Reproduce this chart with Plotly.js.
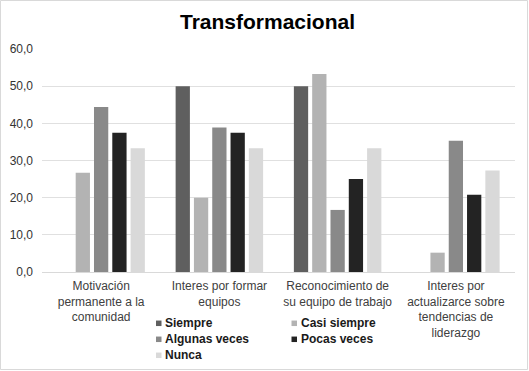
<!DOCTYPE html>
<html><head><meta charset="utf-8">
<script src="https://cdn.plot.ly/plotly-3.0.1.min.js"></script>
<style>html,body{margin:0;padding:0;background:#fff}#chart{width:529px;height:371px}</style>
</head><body><div id="chart"></div>
<script>
const categories = ["Motivación<br>permanente a la<br>comunidad", "Interes por formar<br>equipos", "Reconocimiento de<br>su equipo de trabajo", "Interes por<br>actualizarce sobre<br>tendencias de<br>liderazgo"];
const seriesNames = ["Siempre", "Casi siempre", "Algunas veces", "Pocas veces", "Nunca"];
const siempre = [0, 50, 50, 0];
const casiSiempre = [26.7, 20, 53.3, 5.2];
const algunasVeces = [44.4, 38.9, 16.7, 35.3];
const pocasVeces = [37.5, 37.5, 25, 20.8];
const nunca = [33.3, 33.3, 33.3, 27.3];
const yTicks = [0, 10, 20, 30, 40, 50, 60];
const titleText = "Transformacional";

const seriesValues = [siempre, casiSiempre, algunasVeces, pocasVeces, nunca];
const colors = ["#5f5f5f", "#b3b3b3", "#898989", "#232323", "#d9d9d9"];

const W = 529, H = 371;
const M = {l: 42, r: 14, t: 49, b: 99};
const PW = W - M.l - M.r, PH = H - M.t - M.b;
const px2x = p => (p - M.l) / PW;
const py2y = p => (H - M.b - p) / PH;

const font = "Liberation Sans, Arial, sans-serif";

const traces = seriesNames.map((n, i) => ({
  type: "bar", name: n, x: categories, y: seriesValues[i],
  marker: {color: colors[i], line: {width: 0}},
  showlegend: false, hoverinfo: "x+y"
}));

const shapes = [{
  type: "rect", xref: "paper", yref: "paper",
  x0: px2x(0.5), x1: px2x(527.5), y0: py2y(369.5), y1: py2y(0.5),
  line: {color: "#d9d9d9", width: 1}, fillcolor: "rgba(0,0,0,0)", layer: "below"
}];
const annotations = [];
seriesNames.forEach((n, i) => {
  const col = i % 2, row = Math.floor(i / 2);
  const sx = 156 + col * 135.5, cy = 323.3 + row * 16;
  shapes.push({
    type: "rect", xref: "paper", yref: "paper",
    x0: px2x(sx), x1: px2x(sx + 5.5), y0: py2y(cy + 2.75), y1: py2y(cy - 2.75),
    line: {width: 0}, fillcolor: colors[i]
  });
  annotations.push({
    xref: "paper", yref: "paper", x: px2x(sx + 7), y: py2y(cy),
    xanchor: "left", yanchor: "middle", showarrow: false,
    text: "<b>" + n + "</b>",
    font: {family: font, size: 12, color: "#1a1a1a"}
  });
});

const layout = {
  width: W, height: H,
  margin: M,
  paper_bgcolor: "#fff", plot_bgcolor: "#fff",
  separators: ",.",
  font: {family: font, size: 12, color: "#404040"},
  title: {
    text: "<b>" + titleText + "</b>",
    x: 267.5 / W, xanchor: "center", xref: "container",
    y: 1 - 21.7 / H, yanchor: "middle", yref: "container",
    font: {family: font, size: 21, color: "#000"}
  },
  barmode: "group", bargap: 0.226, bargroupgap: 0.22,
  showlegend: false,
  xaxis: {
    type: "category", showgrid: false, zeroline: false,
    showline: false, ticks: "",
    tickfont: {family: font, size: 12, color: "#404040"},
    tickangle: 0, ticklabelstandoff: 5, automargin: false
  },
  yaxis: {
    range: [0, 60], tickvals: yTicks, tickformat: ".1f",
    showgrid: true, gridcolor: "#e0e0e0", gridwidth: 1,
    zeroline: true, zerolinecolor: "#d9d9d9", zerolinewidth: 1,
    showline: false, ticks: "",
    tickfont: {family: font, size: 12, color: "#333"},
    ticklabelstandoff: 8, automargin: false
  },
  shapes: shapes,
  annotations: annotations
};

Plotly.newPlot("chart", traces, layout, {displayModeBar: false, staticPlot: true});
</script></body></html>
